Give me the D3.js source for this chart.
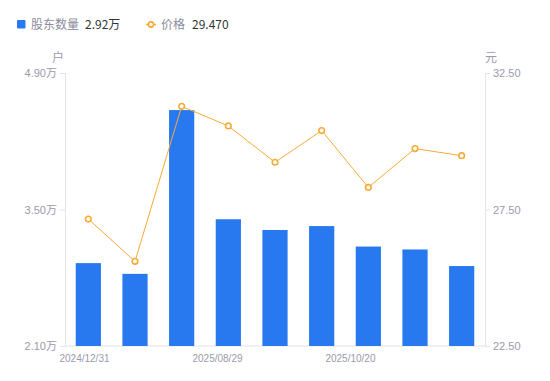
<!DOCTYPE html>
<html>
<head>
<meta charset="utf-8">
<script src="https://cdn.jsdelivr.net/npm/d3@7"></script>
<style>
  body { margin: 0; background: #fff; }
  svg { display: block; font-family: "Noto Sans CJK SC", "Noto Sans", sans-serif; }
</style>
</head>
<body>
<div id="chart"></div>
<script>
// data
var dates = ["2024/12/31", "2025/03/31", "2025/06/30", "2025/08/29", "2025/09/19",
             "2025/09/30", "2025/10/20", "2025/10/31", "2025/11/20"];
var holders = [2.95, 2.84, 4.52, 3.40, 3.29, 3.33, 3.12, 3.09, 2.92];   // 万户
var prices = [27.15, 25.60, 31.28, 30.56, 29.23, 30.39, 28.31, 29.73, 29.47];
var leftTicks = [2.10, 3.50, 4.90];
var rightTicks = [22.50, 27.50, 32.50];
var labelIdx = [0, 3, 6];

var w = 550, h = 381;
var margin = {top: 73, right: 65, bottom: 35, left: 65};
var iw = w - margin.left - margin.right;
var ih = h - margin.top - margin.bottom;

var barColor = "#2878f0", lineColor = "#f7ab38", axisColor = "#e3e3e8", txtColor = "#9a9aaa";

var svg = d3.select("#chart").append("svg")
  .attr("width", w).attr("height", h);

var g = svg.append("g")
  .attr("transform", "translate(" + margin.left + "," + margin.top + ")");

var x = d3.scaleBand().domain(d3.range(dates.length)).range([0, iw])
  .paddingInner(0.46).paddingOuter(0.23);
var yL = d3.scaleLinear().domain([2.10, 4.90]).range([ih, 0]);
var yR = d3.scaleLinear().domain([22.5, 32.5]).range([ih, 0]);
// label positions (they drift slightly from band centers in the original)
var xl = d3.scaleLinear().domain([0, dates.length - 1]).range([19.5, 19.5 + 44.33 * 8]);

// left axis
var axL = g.append("g")
  .call(d3.axisLeft(yL).tickValues(leftTicks).tickSize(5).tickPadding(3)
    .tickFormat(function(d) { return d3.format(".2f")(d) + "万"; }));
// right axis
var axR = g.append("g").attr("transform", "translate(" + iw + ",0)")
  .call(d3.axisRight(yR).tickValues(rightTicks).tickSize(5).tickPadding(3)
    .tickFormat(d3.format(".2f")));
[axL, axR].forEach(function(a) {
  a.select(".domain").attr("stroke", axisColor);
  a.selectAll(".tick line").attr("stroke", axisColor);
  a.selectAll(".tick text").attr("fill", txtColor).style("font-size", "11px")
    .style("font-family", "'Liberation Sans', Arial, 'Noto Sans CJK SC', sans-serif");
});

// bottom line
g.append("line").attr("x1", 0).attr("x2", iw).attr("y1", ih).attr("y2", ih)
  .attr("stroke", axisColor);

// x labels
g.selectAll(".xlab").data(labelIdx).enter().append("text")
  .attr("x", function(i) { return xl(i); })
  .attr("y", ih + 16)
  .attr("text-anchor", "middle")
  .attr("fill", txtColor)
  .style("font-size", "10px")
  .style("font-family", "'Liberation Sans', Arial, sans-serif")
  .text(function(i) { return dates[i]; });

// unit labels
g.append("text").attr("x", -7).attr("y", -11).attr("text-anchor", "middle")
  .attr("fill", txtColor).style("font-size", "12px").text("户");
g.append("text").attr("x", iw).attr("y", -11).attr("text-anchor", "start")
  .attr("fill", txtColor).style("font-size", "12px").text("元");

// bars
g.selectAll(".bar").data(holders).enter().append("rect")
  .attr("x", function(d, i) { return x(i); })
  .attr("y", function(d) { return yL(d); })
  .attr("width", x.bandwidth())
  .attr("height", function(d) { return ih - yL(d); })
  .attr("fill", barColor);

// price line
var line = d3.line()
  .x(function(d, i) { return x(i) + x.bandwidth() / 2; })
  .y(function(d) { return yR(d); });
g.append("path").datum(prices)
  .attr("d", line).attr("fill", "none")
  .attr("stroke", lineColor).attr("stroke-width", 1);
g.selectAll(".pt").data(prices).enter().append("circle")
  .attr("cx", function(d, i) { return x(i) + x.bandwidth() / 2; })
  .attr("cy", function(d) { return yR(d); })
  .attr("r", 2.8)
  .attr("fill", "#fff").attr("stroke", lineColor).attr("stroke-width", 1.6);

// legend
var lg = svg.append("g");
lg.append("rect").attr("x", 17).attr("y", 20).attr("width", 8.5).attr("height", 8.5)
  .attr("rx", 1).attr("fill", barColor);
lg.append("text").attr("x", 31).attr("y", 29).attr("fill", "#8c8c9a")
  .style("font-size", "12px").text("股东数量");
lg.append("text").attr("x", 85).attr("y", 29).attr("fill", "#333")
  .style("font-size", "12px").text(d3.format(".2f")(holders[holders.length - 1]) + "万");
lg.append("line").attr("x1", 146).attr("x2", 156).attr("y1", 24.5).attr("y2", 24.5)
  .attr("stroke", lineColor).attr("stroke-width", 1.5);
lg.append("circle").attr("cx", 151).attr("cy", 24.5).attr("r", 2.6)
  .attr("fill", "#fff").attr("stroke", lineColor).attr("stroke-width", 1.6);
lg.append("text").attr("x", 161).attr("y", 29).attr("fill", "#8c8c9a")
  .style("font-size", "12px").text("价格");
lg.append("text").attr("x", 192).attr("y", 29).attr("fill", "#333")
  .style("font-size", "12px").text(d3.format(".3f")(prices[prices.length - 1]));
</script>
</body>
</html>
